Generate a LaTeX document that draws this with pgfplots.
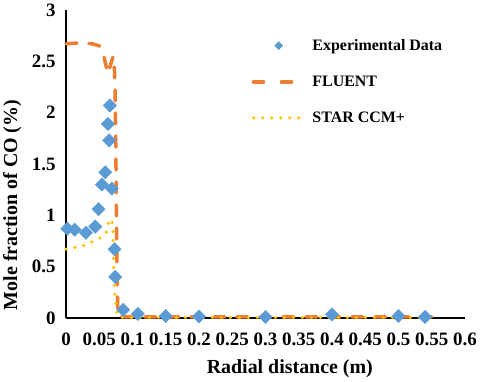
\documentclass[border=0pt]{standalone}
\usepackage{pgfplots}
\pgfplotsset{compat=1.18}
\usepackage{fontspec}
\setmainfont{Liberation Serif}
\definecolor{expblue}{HTML}{5B9BD5}
\definecolor{flor}{HTML}{ED7D31}
\definecolor{stary}{HTML}{FFC000}
\pgfplotsset{
  explegend/.style={legend image code/.code={\path[##1] plot[only marks, mark size=2.8bp] coordinates {(27bp,0bp)};}},
  flulegend/.style={legend image code/.code={\draw[##1, dash pattern=on 10bp off 18bp] (1.75bp,0bp)--(44bp,0bp);}},
  starlegend/.style={legend image code/.code={\draw[##1] (2bp,0bp)--(48bp,0bp);}},
}
\begin{document}
\begin{tikzpicture}
\begin{axis}[
  at={(66bp,64bp)}, anchor=south west,
  width=399bp, height=308bp, scale only axis,
  xmin=0, xmax=0.6, ymin=0, ymax=3,
  clip=false,
  axis x line=bottom, axis y line=left,
  axis line style={-, line width=2.5bp, black},
  major tick length=0pt,
  /pgf/number format/assume math mode=true,
  xtick={0,0.05,0.1,0.15,0.2,0.25,0.3,0.35,0.4,0.45,0.5,0.55,0.6},
  xticklabels={0,0.05,0.1,0.15,0.2,0.25,0.3,0.35,0.4,0.45,0.5,0.55,0.6},
  ytick={0,0.5,1,1.5,2,2.5,3},
  yticklabels={0,0.5,1,1.5,2,2.5,3},
  xticklabel style={font=\fontsize{19}{19}\selectfont\bfseries, yshift=-11bp},
  yticklabel style={font=\fontsize{19}{19}\selectfont\bfseries, xshift=-7bp},
  xlabel={Radial distance (m)},
  ylabel={Mole fraction of CO (\%)},
  x label style={font=\fontsize{20}{20}\selectfont\bfseries, at={(axis description cs:0.561,-0.165)}, anchor=center},
  y label style={font=\fontsize{20}{20}\selectfont\bfseries, at={(axis description cs:-0.135,0.367)}, anchor=center},
  legend style={draw=none, fill=none, at={(axis description cs:0.465,0.912)}, anchor=north west,
    font=\fontsize{16}{16}\selectfont\bfseries, row sep=20bp, inner sep=0pt,
    /tikz/every odd column/.style={column sep=9bp}},
  legend cell align=left,
]
\addplot[only marks, mark=square*, mark size=4.7bp, color=expblue, mark options={rotate=45, draw=expblue, fill=expblue}, explegend]
coordinates {
(0.002,0.87) (0.013,0.86) (0.030,0.83) (0.044,0.89) (0.049,1.06)
(0.054,1.30) (0.059,1.42) (0.069,1.26) (0.065,1.73) (0.063,1.89)
(0.066,2.07) (0.073,0.67) (0.074,0.40) (0.086,0.08) (0.108,0.04)
(0.15,0.02) (0.20,0.015) (0.30,0.01) (0.40,0.035) (0.50,0.02) (0.54,0.01)
};
\addlegendentry{Experimental Data}
\addplot[color=flor, line width=3.5bp, line cap=round, dash pattern=on 11bp off 12bp, flulegend]
coordinates {
(0,2.67) (0.02,2.68) (0.04,2.67) (0.05,2.65) (0.056,2.58) (0.060,2.46) (0.063,2.38)
(0.071,2.55) (0.073,2.40) (0.074,2.15) (0.075,1.6) (0.076,0.9) (0.077,0.35) (0.078,0.02)
(0.09,0.01) (0.3,0.01) (0.55,0.01)
};
\addlegendentry{FLUENT}
\addplot[color=stary, line width=3.5bp, line cap=round, dash pattern=on 0bp off 9bp, starlegend]
coordinates {
(0,0.67) (0.024,0.70) (0.049,0.77) (0.060,0.82) (0.065,0.96) (0.069,0.95) (0.071,0.85)
(0.071,0.70) (0.072,0.40) (0.074,0.20) (0.077,0.03) (0.08,0.005) (0.3,0.005) (0.55,0.005)
};
\addlegendentry{STAR CCM+}
\end{axis}
\pgfresetboundingbox
\path (0,0) rectangle (480bp,382bp);
\end{tikzpicture}
\end{document}
